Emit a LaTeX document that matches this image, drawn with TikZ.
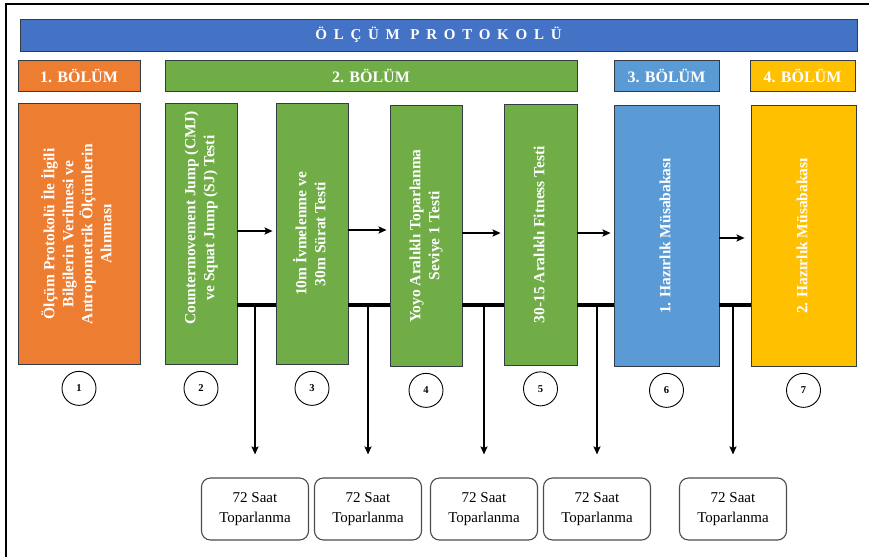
\documentclass[tikz,border=0pt]{standalone}
\usepackage{fontspec}
\setmainfont{Liberation Serif}
\newfontfamily\spacedfont[LetterSpace=45]{Liberation Serif}
\usepackage{xcolor}
\usetikzlibrary{arrows.meta, positioning}
\definecolor{titleblue}{HTML}{4472C4}
\definecolor{partorange}{HTML}{ED7D31}
\definecolor{partgreen}{HTML}{70AD47}
\definecolor{partblue}{HTML}{5B9BD5}
\definecolor{partgold}{HTML}{FFC000}
\definecolor{edgedark}{HTML}{333B45}
\newcommand{\vtext}[2][0pt]{\rotatebox{90}{\hspace*{#1}\begin{tabular}{@{}c@{}}#2\end{tabular}}}

\begin{document}
\begin{tikzpicture}[x=1pt, y=-1pt, node distance=6pt,
    titlebar/.style={rectangle, draw=edgedark, line width=0.8pt, fill=titleblue, minimum width=837pt, minimum height=32pt, text=white, font=\spacedfont\bfseries\fontsize{15}{18}\selectfont},
    part/.style={rectangle, draw=edgedark, line width=0.8pt, minimum height=31pt, text=white, font=\bfseries\fontsize{16}{19}\selectfont},
    stage/.style={rectangle, draw=edgedark, line width=0.8pt, minimum height=261pt, inner sep=0pt, text=white, font=\bfseries\fontsize{15.5}{19}\selectfont},
    num/.style={circle, draw=black, line width=0.9pt, minimum size=34pt, inner sep=0pt, font=\bfseries\fontsize{10.5}{12}\selectfont},
    rest/.style={rectangle, draw=black!70, line width=1.1pt, rounded corners=9pt, minimum width=107pt, minimum height=62pt, align=center, font=\fontsize{15}{20}\selectfont},
    arrow/.style={-{Stealth[length=8pt, width=7pt, inset=1.5pt]}, line width=1.8pt},
    bar/.style={line width=3.5pt},
    frame/.style={line width=2pt}]

    \useasboundingbox (0,0) rectangle (869,557);
    \draw[frame] (6,557) -- (6,4) -- (869,4);

    \node[titlebar] (title) at (438.5,35) {ÖLÇÜM PROTOKOLÜ};

    \node[part, fill=partorange, minimum width=122pt] (p1) at (79,75.5) {1. BÖLÜM};
    \node[part, fill=partgreen, minimum width=412pt] (p2) at (371,75.5) {2. BÖLÜM};
    \node[part, fill=partblue, minimum width=105pt] (p3) at (666.5,75.5) {3. BÖLÜM};
    \node[part, fill=partgold, minimum width=105pt] (p4) at (802.5,75.5) {4. BÖLÜM};

    \node[stage, fill=partorange, minimum width=122pt] (b1) at (79,234) {\vtext{Ölçüm Protokolü İle İlgili\\Bilgilerin Verilmesi ve\\Antropometrik Ölçümlerin\\Alınması}};
    \node[stage, fill=partgreen, minimum width=72pt] (b2) at (201,234) {\vtext[32pt]{Countermovement Jump (CMJ)\\ve Squat Jump (SJ) Testi}};
    \node[stage, fill=partgreen, minimum width=72pt] (b3) at (312,234) {\vtext{10m İvmelenme ve\\30m Sürat Testi}};
    \node[stage, fill=partgreen, minimum width=72pt] (b4) at (426,236) {\vtext{Yoyo Aralıklı Toparlanma\\Seviye 1 Testi}};
    \node[stage, fill=partgreen, minimum width=73pt] (b5) at (540.5,234.5) {\vtext{30-15 Aralıklı Fitness Testi}};
    \node[stage, fill=partblue, minimum width=105pt] (b6) at (666.5,236) {\vtext{1. Hazırlık Müsabakası}};
    \node[stage, fill=partgold, minimum width=105pt] (b7) at (803.5,236) {\vtext{2. Hazırlık Müsabakası}};

    \node[num, below=of b1] (c1) {1};
    \node[num, below=of b2] (c2) {2};
    \node[num, below=of b3] (c3) {3};
    \node[num, below=of b4] (c4) {4};
    \node[num, below=of b5] (c5) {5};
    \node[num, below=of b6] (c6) {6};
    \node[num, below=of b7] (c7) {7};

    \node[rest] (r1) at (255,509) {72 Saat\\Toparlanma};
    \node[rest] (r2) at (368,509) {72 Saat\\Toparlanma};
    \node[rest] (r3) at (484,509) {72 Saat\\Toparlanma};
    \node[rest] (r4) at (597,509) {72 Saat\\Toparlanma};
    \node[rest] (r5) at (733,509) {72 Saat\\Toparlanma};

    \draw[arrow, shorten >=3pt] (b2.east |- 0,231) -- (b3.west |- 0,231);
    \draw[arrow, shorten >=3pt] (b3.east |- 0,230) -- (b4.west |- 0,230);
    \draw[arrow, shorten >=3pt] (b4.east |- 0,233) -- (b5.west |- 0,233);
    \draw[arrow, shorten >=3pt] (b5.east |- 0,233) -- (b6.west |- 0,233);
    \draw[arrow, shorten >=6pt] (b6.east |- 0,238) -- (b7.west |- 0,238);

    \draw[bar] (b2.east |- 0,305) -- (b3.west |- 0,305);
    \draw[bar] (b3.east |- 0,305) -- (b4.west |- 0,305);
    \draw[bar] (b4.east |- 0,305) -- (b5.west |- 0,305);
    \draw[bar] (b5.east |- 0,305) -- (b6.west |- 0,305);
    \draw[bar] (b6.east |- 0,305) -- (b7.west |- 0,305);

    \draw[arrow, shorten >=23pt] (r1.north |- 0,305) -- (r1.north);
    \draw[arrow, shorten >=23pt] (r2.north |- 0,305) -- (r2.north);
    \draw[arrow, shorten >=23pt] (r3.north |- 0,305) -- (r3.north);
    \draw[arrow, shorten >=23pt] (r4.north |- 0,305) -- (r4.north);
    \draw[arrow, shorten >=23pt] (r5.north |- 0,305) -- (r5.north);
\end{tikzpicture}
\end{document}
